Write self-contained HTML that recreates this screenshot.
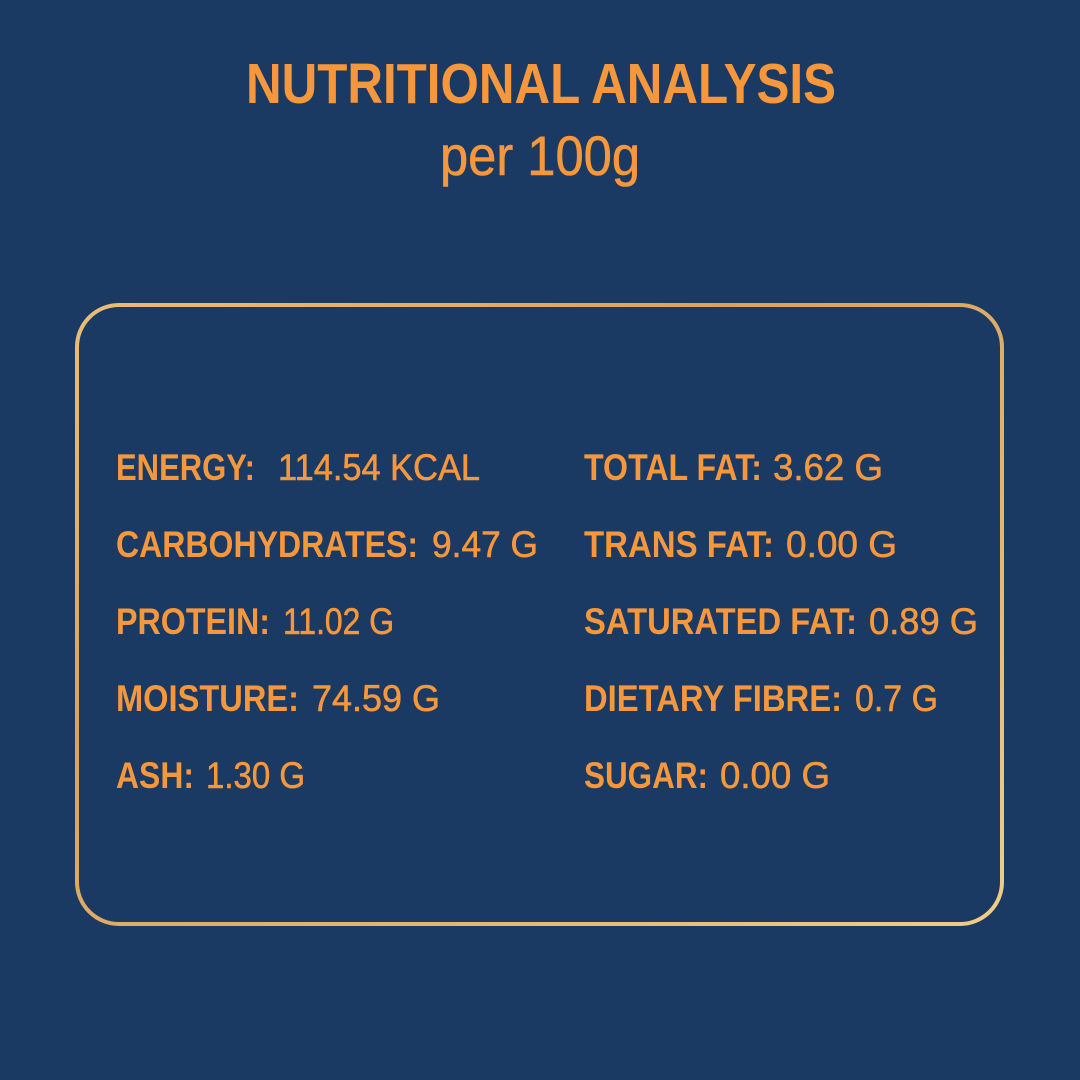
<!DOCTYPE html>
<html><head><meta charset="utf-8"><style>
html,body{margin:0;padding:0;background:#1a3963;}
svg{display:block;}
text{font-family:"Liberation Sans Narrow","Liberation Sans",sans-serif;fill:#f6973b;}
.b{font-weight:700;font-size:37px;}
.r{font-weight:400;font-size:37px;stroke:#f6973b;stroke-width:0.6px;}
</style></head><body>
<svg width="1080" height="1080" viewBox="0 0 1080 1080" xmlns="http://www.w3.org/2000/svg">
<defs>
<linearGradient id="g" x1="0" y1="0" x2="1" y2="1">
<stop offset="0" stop-color="#e9be78"/>
<stop offset="0.35" stop-color="#d9a35c"/>
<stop offset="0.7" stop-color="#e4b76f"/>
<stop offset="1" stop-color="#f0cd86"/>
</linearGradient>
</defs>
<rect width="1080" height="1080" fill="#1a3963"/>
<text x="246" y="103" style="font-weight:700;font-size:57px" textLength="590" lengthAdjust="spacingAndGlyphs">NUTRITIONAL ANALYSIS</text>
<text x="440" y="175" style="font-weight:400;font-size:56px;stroke:#f6973b;stroke-width:0.6px" textLength="200" lengthAdjust="spacingAndGlyphs">per 100g</text>
<rect x="77" y="305" width="925" height="619" rx="42" ry="42" fill="none" stroke="url(#g)" stroke-width="4"/>

<text class="b" x="116" y="480" textLength="139" lengthAdjust="spacingAndGlyphs">ENERGY:</text>
<text class="r" x="278" y="480" textLength="202" lengthAdjust="spacingAndGlyphs">114.54 KCAL</text>
<text class="b" x="116" y="557" textLength="302" lengthAdjust="spacingAndGlyphs">CARBOHYDRATES:</text>
<text class="r" x="432" y="557" textLength="106" lengthAdjust="spacingAndGlyphs">9.47 G</text>
<text class="b" x="116" y="634" textLength="154" lengthAdjust="spacingAndGlyphs">PROTEIN:</text>
<text class="r" x="283" y="634" textLength="111" lengthAdjust="spacingAndGlyphs">11.02 G</text>
<text class="b" x="116" y="711" textLength="183" lengthAdjust="spacingAndGlyphs">MOISTURE:</text>
<text class="r" x="312" y="711" textLength="128" lengthAdjust="spacingAndGlyphs">74.59 G</text>
<text class="b" x="116" y="788" textLength="78" lengthAdjust="spacingAndGlyphs">ASH:</text>
<text class="r" x="206" y="788" textLength="99" lengthAdjust="spacingAndGlyphs">1.30 G</text>

<text class="b" x="584" y="480" textLength="178" lengthAdjust="spacingAndGlyphs">TOTAL FAT:</text>
<text class="r" x="773" y="480" textLength="110" lengthAdjust="spacingAndGlyphs">3.62 G</text>
<text class="b" x="584" y="557" textLength="190" lengthAdjust="spacingAndGlyphs">TRANS FAT:</text>
<text class="r" x="786" y="557" textLength="111" lengthAdjust="spacingAndGlyphs">0.00 G</text>
<text class="b" x="584" y="634" textLength="273" lengthAdjust="spacingAndGlyphs">SATURATED FAT:</text>
<text class="r" x="869" y="634" textLength="109" lengthAdjust="spacingAndGlyphs">0.89 G</text>
<text class="b" x="584" y="711" textLength="258" lengthAdjust="spacingAndGlyphs">DIETARY FIBRE:</text>
<text class="r" x="855" y="711" textLength="83" lengthAdjust="spacingAndGlyphs">0.7 G</text>
<text class="b" x="584" y="788" textLength="124" lengthAdjust="spacingAndGlyphs">SUGAR:</text>
<text class="r" x="720" y="788" textLength="110" lengthAdjust="spacingAndGlyphs">0.00 G</text>
</svg>
</body></html>
